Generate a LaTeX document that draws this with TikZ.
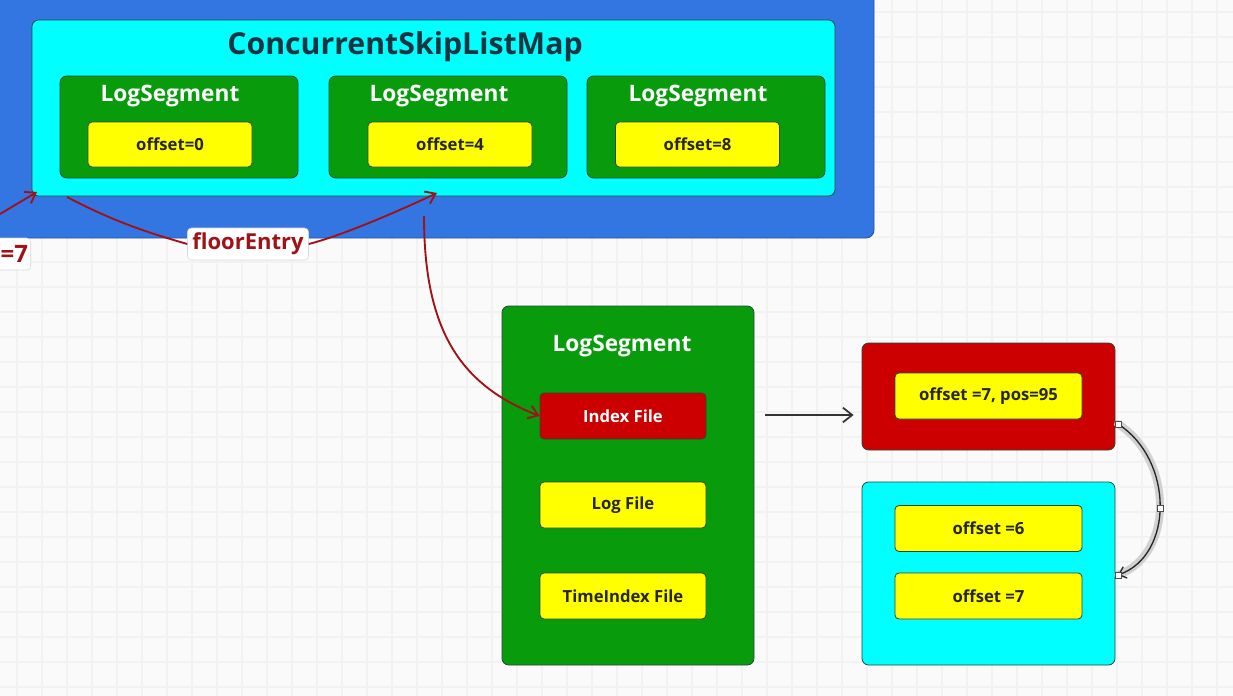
\documentclass[tikz,border=0pt]{standalone}
\usepackage{fontspec}
\setmainfont{Open Sans}
\usetikzlibrary{arrows.meta}
\definecolor{bgblue}{RGB}{51,118,226}
\definecolor{cyanbox}{RGB}{0,255,255}
\definecolor{greenbox}{RGB}{8,155,12}
\definecolor{redbox}{RGB}{204,0,0}
\definecolor{yellowbox}{RGB}{255,255,0}
\definecolor{darkred}{RGB}{158,18,24}
\definecolor{titlecol}{RGB}{22,52,66}
\definecolor{edgecol}{RGB}{40,70,60}
\tikzset{
  box/.style={draw=edgecol, line width=0.6pt, rounded corners=5pt},
  cyanb/.style={box, fill=cyanbox},
  greenb/.style={box, fill=greenbox},
  redb/.style={box, fill=redbox},
  yellowb/.style={box, fill=yellowbox, rounded corners=3pt},
  segtitle/.style={text=white, font=\bfseries\fontsize{17}{20}\selectfont},
  itemtext/.style={text=black!85, font=\bfseries\fontsize{12.5}{14}\selectfont},
  redarrow/.style={draw=darkred, line width=1.4pt, -{Straight Barb[length=7pt,width=10pt]}},
  redline/.style={draw=darkred, line width=1.4pt},
  lbl/.style={fill=white, draw=black!15, rounded corners=3pt, text=darkred, font=\bfseries\fontsize{16.5}{19}\selectfont, inner sep=2pt}
}
\begin{document}
\begin{tikzpicture}[x=0.75pt,y=-0.75pt]
\useasboundingbox (0,0) rectangle (1233,696);
\clip (0,0) rectangle (1233,696);
\fill[white!98!black] (0,0) rectangle (1233,696);
\foreach \g in {17,42,...,1233} \draw[black!5, line width=0.8pt] (\g,0) -- (\g,696);
\foreach \g in {12,37,...,696} \draw[black!5, line width=0.8pt] (0,\g) -- (1233,\g);

% outer blue panel
\filldraw[fill=bgblue, draw=bgblue!70!black, line width=0.6pt, rounded corners=6pt] (-20,-20) rectangle (874,238);

% cyan map
\node[cyanb, minimum width=803*0.75pt, minimum height=176*0.75pt] (map) at (433.5,108) {};
\node[text=titlecol, font=\bfseries\fontsize{22.7}{26}\selectfont] (title) at (405,47) {ConcurrentSkipListMap};

% three log segments
\foreach \n/\cx/\tx/\yx/\off in {s0/179/170/170/0, s4/448/439/450/4, s8/706/698/697.5/8}{
  \node[greenb, minimum width=238*0.75pt, minimum height=102*0.75pt] (\n) at (\cx,127) {};
  \node[segtitle] (\n t) at (\tx,96.5) {LogSegment};
  \node[yellowb, minimum width=164*0.75pt, minimum height=45*0.75pt, itemtext] (\n o) at (\yx,144.5) {offset=\off};
}

% left label
\node[lbl, anchor=east, minimum height=32*0.75pt, text width=50*0.75pt, align=right, font=\bfseries\fontsize{18}{20}\selectfont] (q) at (31,254) {=7};
\coordinate (qin) at (0,214);
\coordinate (qend) at (37,192);
\draw[redarrow] (qin) -- (qend);

% floorEntry
\node[lbl, minimum width=121*0.75pt, minimum height=32*0.75pt] (fe) at (248,244) {floorEntry};
\coordinate (fstart) at (67,197);
\coordinate (fend) at (437,193);
\draw[redline] (fstart) .. controls (120,225) and (160,236) .. (fe.west);
\draw[redarrow] (fe.east) .. controls (340,236) and (390,215) .. (fend);

% big log segment
\node[greenb, minimum width=252*0.75pt, minimum height=359*0.75pt] (seg) at (628,485.5) {};
\node[segtitle] (segt) at (622,346.5) {LogSegment};
\node[redb, rounded corners=3pt, minimum width=166*0.75pt, minimum height=46*0.75pt, itemtext, text=white] (idx) at (623,416) {Index File};
\node[yellowb, minimum width=166*0.75pt, minimum height=46*0.75pt, itemtext] (log) at (623,505) {Log File};
\node[yellowb, minimum width=166*0.75pt, minimum height=46*0.75pt, itemtext] (tidx) at (623,596) {TimeIndex File};

% red curve into Index File
\coordinate (dstart) at (424,216);
\draw[redarrow] (dstart) .. controls (424,330) and (460,385) .. (idx.west);

% index entries
\node[redb, minimum width=253*0.75pt, minimum height=107*0.75pt] (ie) at (988.5,396.5) {};
\node[yellowb, minimum width=187*0.75pt, minimum height=46*0.75pt, itemtext] (ie1) at (988.5,396) {offset =7, pos=95};
\node[cyanb, minimum width=253*0.75pt, minimum height=183*0.75pt] (le) at (988.5,573.5) {};
\node[yellowb, minimum width=187*0.75pt, minimum height=46*0.75pt, itemtext] (le1) at (988.5,528.5) {offset =6};
\node[yellowb, minimum width=187*0.75pt, minimum height=46*0.75pt, itemtext] (le2) at (988.5,596) {offset =7};

% black arrow
\coordinate (ba) at (765,415);
\draw[black!80, line width=1.3pt, -{Straight Barb[length=7pt,width=11pt]}, shorten >=8*0.75pt] (ba) -- (ba -| ie.west);

% curved arrow with highlight
\coordinate (ca) at (1118,424);
\coordinate (cb) at (1118,575);
\draw[black!18, line width=6pt, line cap=round] (ca) .. controls (1174,460) and (1174,555) .. (cb);
\draw[black!85, line width=1pt, -{Straight Barb[length=5pt,width=9pt]}] (ca) .. controls (1174,460) and (1174,555) .. (cb);
\foreach \p in {(1118,424),(1160,508),(1118,575)}
  \filldraw[fill=white, draw=black!70, line width=0.5pt] \p ++(-3,-3) rectangle ++(6,6);
\end{tikzpicture}
\end{document}
